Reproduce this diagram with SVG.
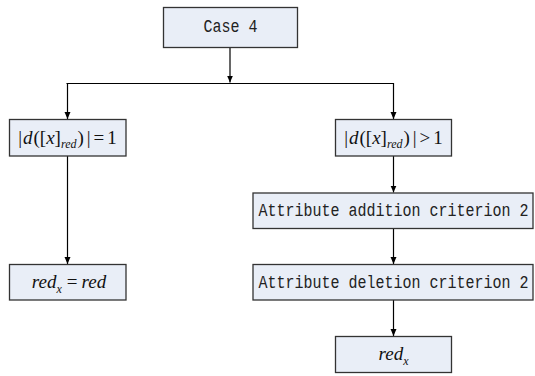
<svg xmlns="http://www.w3.org/2000/svg" width="535" height="376" viewBox="0 0 535 376">
<defs>
<style>
.box{fill:#E9EEF7;stroke:#333;stroke-width:1.3}
.mono{font-family:"Liberation Mono","DejaVu Sans Mono",monospace;font-size:15px;fill:#222}
.math{font-family:"Liberation Serif","Times New Roman",serif;font-size:19px;fill:#111}
.it{font-style:italic}
.sub{font-size:12px}
.conn{stroke:#000;stroke-width:1.2;fill:none}
</style>
<marker id="ah" markerWidth="8" markerHeight="8" refX="7" refY="4" orient="auto" markerUnits="userSpaceOnUse">
<path d="M0,1 L7,4 L0,7 Z" fill="#000"/>
</marker>
</defs>
<rect width="535" height="376" fill="#fff"/>
<g id="connectors">
<line class="conn" x1="230" y1="47.5" x2="230" y2="82.5" marker-end="url(#ah)"/>
<line class="conn" x1="66.5" y1="83.5" x2="393.5" y2="83.5"/>
<line class="conn" x1="67.5" y1="83" x2="67.5" y2="119" marker-end="url(#ah)"/>
<line class="conn" x1="393.5" y1="83" x2="393.5" y2="119" marker-end="url(#ah)"/>
<line class="conn" x1="67.5" y1="156" x2="67.5" y2="264" marker-end="url(#ah)"/>
<line class="conn" x1="393.5" y1="156" x2="393.5" y2="192.5" marker-end="url(#ah)"/>
<line class="conn" x1="393.5" y1="228.5" x2="393.5" y2="264" marker-end="url(#ah)"/>
<line class="conn" x1="393.5" y1="300" x2="393.5" y2="336" marker-end="url(#ah)"/>
</g>
<g id="case4">
<rect class="box" x="163.5" y="7.5" width="134" height="40"/>
<text class="mono" transform="translate(230.5,32) scale(1,1.25)" text-anchor="middle">Case 4</text>
</g>
<g id="eq1">
<rect class="box" x="9.5" y="119.5" width="116.5" height="36.5"/>
<text class="math" x="67.5" y="144" text-anchor="middle"><tspan>|</tspan><tspan class="it" dx="1">d</tspan><tspan dx="1">([</tspan><tspan class="it">x</tspan><tspan>]</tspan><tspan class="it sub" dy="4">red</tspan><tspan dy="-4" dx="1">)</tspan><tspan dx="3">|</tspan><tspan dx="3">=</tspan><tspan dx="3">1</tspan></text>
</g>
<g id="gt1">
<rect class="box" x="335.5" y="119.5" width="116" height="36.5"/>
<text class="math" x="393.5" y="144" text-anchor="middle"><tspan>|</tspan><tspan class="it" dx="1">d</tspan><tspan dx="1">([</tspan><tspan class="it">x</tspan><tspan>]</tspan><tspan class="it sub" dy="4">red</tspan><tspan dy="-4" dx="1">)</tspan><tspan dx="3">|</tspan><tspan dx="3">&gt;</tspan><tspan dx="3">1</tspan></text>
</g>
<g id="addition">
<rect class="box" x="253" y="193" width="280" height="35.5"/>
<text class="mono" transform="translate(393.5,216) scale(1,1.25)" text-anchor="middle">Attribute addition criterion 2</text>
</g>
<g id="deletion">
<rect class="box" x="253" y="264.5" width="280" height="35.5"/>
<text class="mono" transform="translate(393.5,288) scale(1,1.25)" text-anchor="middle">Attribute deletion criterion 2</text>
</g>
<g id="redx_eq">
<rect class="box" x="9.5" y="264.5" width="116.5" height="35.5"/>
<text class="math" x="69" y="288" text-anchor="middle"><tspan class="it">red</tspan><tspan class="it sub" dy="5">x</tspan><tspan dy="-5" dx="5">=</tspan><tspan class="it" dx="4">red</tspan></text>
</g>
<g id="redx">
<rect class="box" x="335.5" y="336.5" width="116" height="36"/>
<text class="math" x="393.5" y="360" text-anchor="middle"><tspan class="it">red</tspan><tspan class="it sub" dy="5">x</tspan></text>
</g>
</svg>
